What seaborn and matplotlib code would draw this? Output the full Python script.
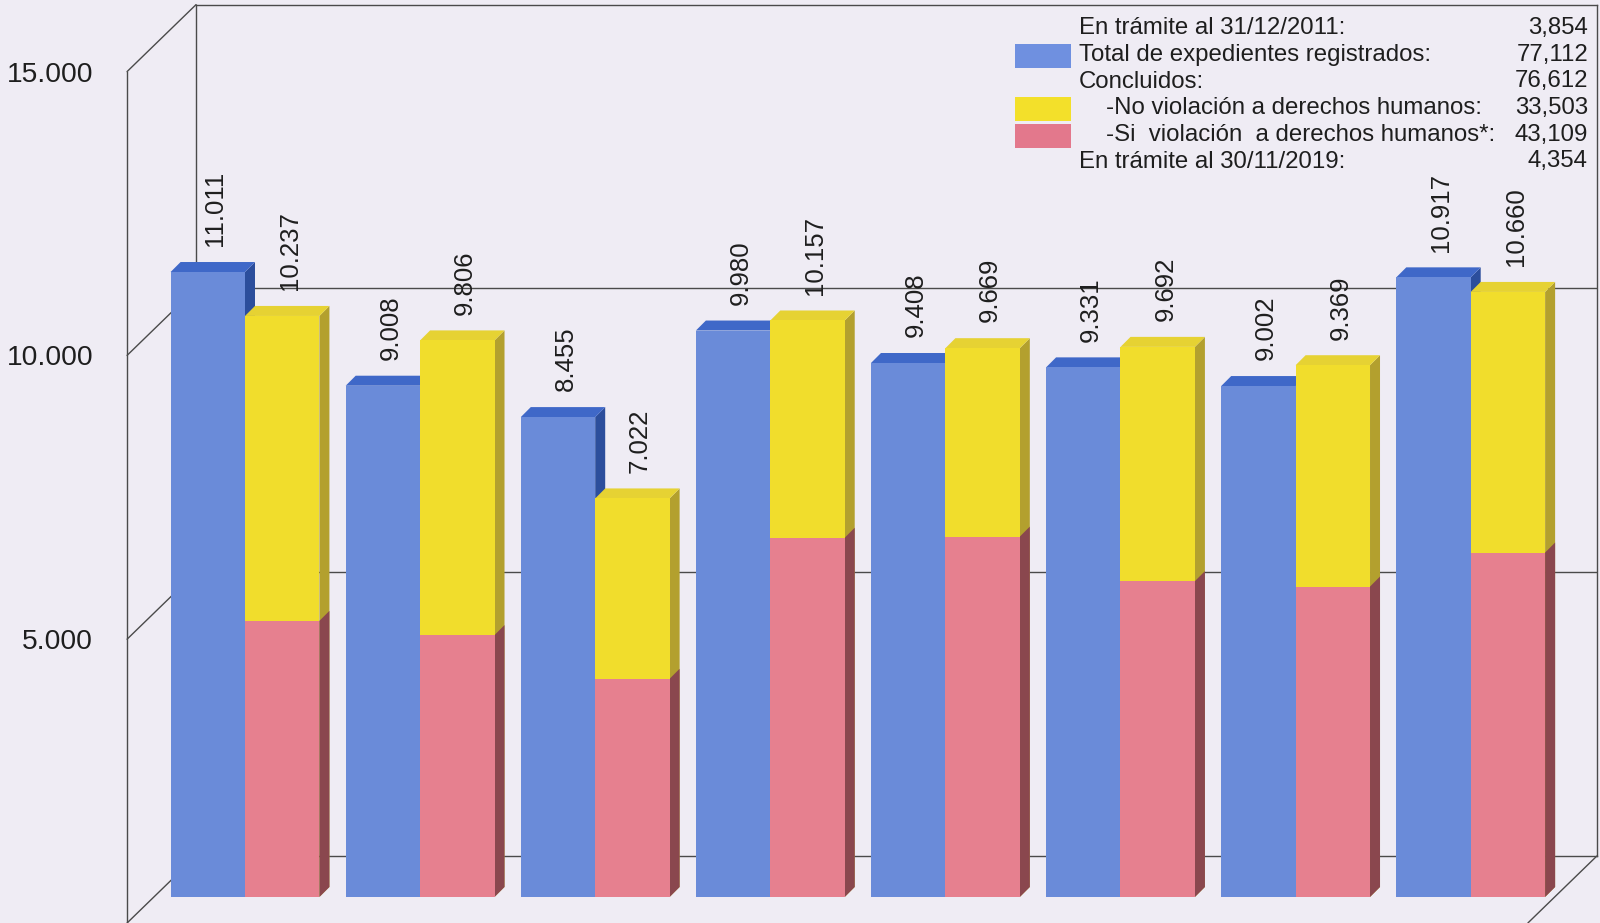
import matplotlib
matplotlib.use("Agg")
import matplotlib.pyplot as plt
from matplotlib.patches import Polygon, Rectangle
from matplotlib.lines import Line2D
from matplotlib.transforms import IdentityTransform
import numpy as np
import pandas as pd
import seaborn as sns

# ---------------------------------------------------------------- data
years = ["2012", "2013", "2014", "2015", "2016", "2017", "2018", "2019"]
registrados = [11011, 9008, 8455, 9980, 9408, 9331, 9002, 10917]
si_violacion = [4865, 4615, 3845, 6330, 6350, 5565, 5470, 6069]
no_violacion = [5372, 5191, 3177, 3827, 3319, 4127, 3899, 4591]
concluidos = [s + n for s, n in zip(si_violacion, no_violacion)]

ytick_values = [5000, 10000, 15000]
ytick_labels = ["5.000", "10.000", "15.000"]

resumen_textos = [
    "En trámite al 31/12/2011:",
    "Total de expedientes registrados:",
    "Concluidos:",
    "-No violación a derechos humanos:",
    "-Si  violación  a derechos humanos*:",
    "En trámite al 30/11/2019:",
]
resumen_valores = ["3,854", "77,112", "76,612", "33,503", "43,109", "4,354"]
resumen_sangria = [False, False, False, True, True, False]
resumen_color = [None, "blue", None, "yellow", "red", None]

# ---------------------------------------------------------------- style
BG = "#EFECF4"
BLUE, BLUE_TOP, BLUE_SIDE = "#6A8BD9", "#3F68C8", "#2C4E9C"
YELLOW, YELLOW_TOP, YELLOW_SIDE = "#F1DD2C", "#E6D233", "#B3A02E"
RED, RED_SIDE = "#E6808F", "#8A474E"
LINE = "#4A4A4A"
SWATCH = {"blue": "#6F90E0", "yellow": "#F3E02A", "red": "#E3788C"}

sns.set_style("white")
plt.rcParams["font.family"] = ["Liberation Sans", "DejaVu Sans"]

W, H = 1600, 923
fig = plt.figure(figsize=(W / 100, H / 100), dpi=100, facecolor=BG)

# bar plane: group spacing and value scale in pixels
c0, step = 245.0, 175.1
k = 0.05676
floor_px = 897
depth = 10  # bar depth in pixels
front_off = np.array([-26.0, -26.0])
back_off = np.array([43.0, 41.0])
wall_x0, wall_x1, wall_top = -0.525, 7.475, 15000

ax = fig.add_axes([0, 0, 1, 1], zorder=3)
orden = ["Registrados", "Concluidos"]

# registered cases next to the concluded total (yellow = total concluded)
df_tot = pd.DataFrame({
    "año": years * 2,
    "serie": ["Registrados"] * len(years) + ["Concluidos"] * len(years),
    "valor": registrados + concluidos,
})
sns.barplot(data=df_tot, x="año", y="valor", hue="serie", hue_order=orden,
            palette={"Registrados": BLUE, "Concluidos": YELLOW},
            width=0.85, saturation=1, errorbar=None, legend=False,
            linewidth=0, ax=ax)
n_tot = len(ax.patches)

# concluded with a human-rights violation, stacked at the base of the total
df_si = pd.DataFrame({
    "año": years * 2,
    "serie": ["Registrados"] * len(years) + ["Concluidos"] * len(years),
    "valor": registrados + si_violacion,
})
sns.barplot(data=df_si, x="año", y="valor", hue="serie", hue_order=orden,
            palette={"Registrados": BLUE, "Concluidos": RED},
            width=0.85, saturation=1, errorbar=None, legend=False,
            linewidth=0, ax=ax)

ax.set_xlim(-c0 / step, (W - c0) / step)
ax.set_ylim(-(H - floor_px) / k, floor_px / k)
ax.axis("off")

patches = list(ax.patches)
first, second = patches[:n_tot], patches[n_tot:]
nb = len(years)
blue_bars, yellow_bars = first[:nb], first[nb:]
red_bars = second[nb:]
for p in second[:nb]:
    p.set_visible(False)

# ---------------------------------------------------------------- 3D faces
ddx = depth / step
ddy = depth / k


def add_faces(p, top_c, side_c, z):
    x0, y0 = p.get_x(), p.get_y()
    x1, y1 = x0 + p.get_width(), y0 + p.get_height()
    ax.add_patch(Polygon([(x1, y0), (x1 + ddx, y0 + ddy), (x1 + ddx, y1 + ddy), (x1, y1)],
                         closed=True, facecolor=side_c, edgecolor="none", zorder=z))
    if top_c is not None:
        ax.add_patch(Polygon([(x0, y1), (x1, y1), (x1 + ddx, y1 + ddy), (x0 + ddx, y1 + ddy)],
                             closed=True, facecolor=top_c, edgecolor="none", zorder=z + 0.05))


def add_label(p):
    x0, x1 = p.get_x(), p.get_x() + p.get_width()
    y1 = p.get_y() + p.get_height()
    ax.annotate(f"{int(round(p.get_height())):,}".replace(",", "."),
                ((x0 + x1) / 2, y1), xytext=(5.5, 18.5), textcoords="offset points",
                rotation=90, ha="center", va="bottom", fontsize=18.5,
                color="#1E1E1E", zorder=4)


for p in patches:
    p.set_zorder(2)
for p in blue_bars:
    add_faces(p, BLUE_TOP, BLUE_SIDE, 1.0)
    add_label(p)
for p in yellow_bars:
    add_faces(p, YELLOW_TOP, YELLOW_SIDE, 1.2)
    add_label(p)
for p in red_bars:
    p.set_zorder(2.1)
    add_faces(p, None, RED_SIDE, 1.3)

# ---------------------------------------------------------------- walls
def disp(x, v):
    return ax.transData.transform((x, v))


def add_plane_axes(offset, z):
    bl = disp(wall_x0, 0) + offset
    tr = disp(wall_x1, wall_top) + offset
    a = fig.add_axes([bl[0] / W, bl[1] / H, (tr[0] - bl[0]) / W, (tr[1] - bl[1]) / H],
                     zorder=z)
    a.set_xlim(0, 1)
    a.set_ylim(0, wall_top)
    a.patch.set_visible(False)
    a.set_xticks([])
    return a


back = add_plane_axes(back_off, 0)
back.set_yticks([5000, 10000])
back.tick_params(axis="y", length=0, labelleft=False)
back.grid(axis="y", color=LINE, linewidth=1.0)
for s in back.spines.values():
    s.set_color(LINE)
    s.set_linewidth(1.0)
    s.set_visible(True)

front = add_plane_axes(front_off, 0)
for name, s in front.spines.items():
    s.set_visible(name == "left")
front.spines["left"].set_color(LINE)
front.spines["left"].set_linewidth(1.0)
front.set_yticks(ytick_values)
front.set_yticklabels(ytick_labels)
front.tick_params(axis="y", length=0, pad=24.5, labelsize=20.3, labelcolor="#1E1E1E")
front.grid(False)

# edges joining the front and back planes
edges = [(wall_x0, v) for v in [0, 5000, 10000, 15000]] + [(wall_x1, 0)]
for x, v in edges:
    a = disp(x, v) + front_off
    b = disp(x, v) + back_off
    fig.add_artist(Line2D([a[0], b[0]], [a[1], b[1]], color=LINE, linewidth=1.0,
                          transform=IdentityTransform(), zorder=1))

# ---------------------------------------------------------------- summary box
row_y = [28, 55, 81.5, 108, 135, 161.5]
for txt, val, ind, col, y in zip(resumen_textos, resumen_valores, resumen_sangria,
                                 resumen_color, row_y):
    tx = 1106 if ind else 1079
    fig.text(tx / W, 1 - y / H, txt, ha="left", va="center", fontsize=17.3,
             color="#1E1E1E")
    fig.text(1588 / W, 1 - y / H, val, ha="right", va="center", fontsize=17.3,
             color="#1E1E1E")
    if col is not None:
        fig.add_artist(Rectangle((1015 / W, 1 - (y + 13) / H), 56 / W, 24 / H,
                                 transform=fig.transFigure, facecolor=SWATCH[col],
                                 edgecolor="none", zorder=5))

fig.savefig("out.png", dpi=100, facecolor=BG)
